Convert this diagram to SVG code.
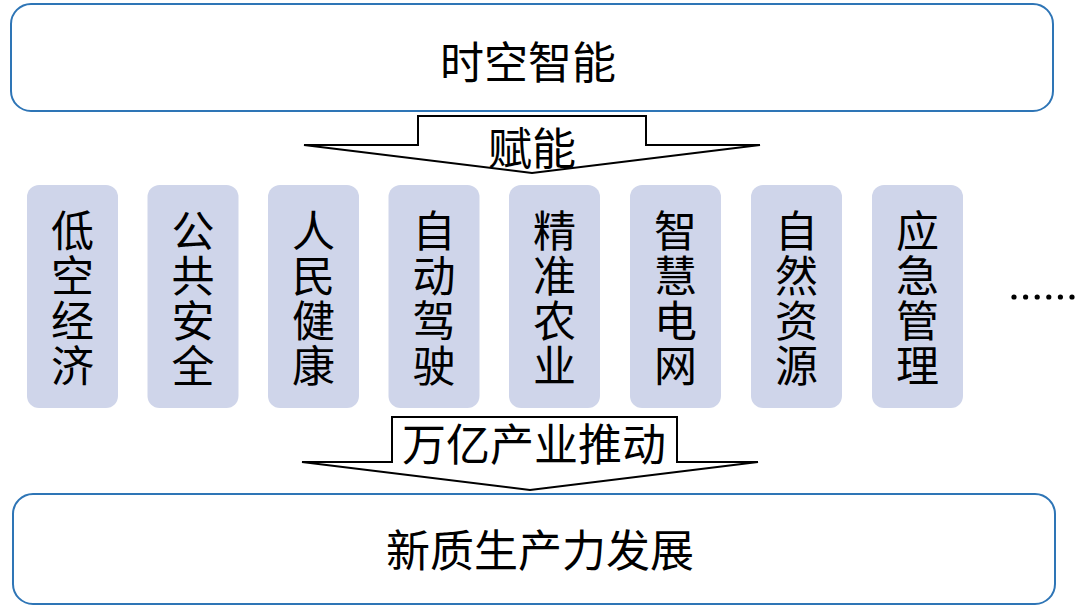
<svg xmlns="http://www.w3.org/2000/svg" width="1080" height="609" viewBox="0 0 1080 609">
<style>
.big{fill:#fff;stroke:#2E75B6;stroke-width:2}
.col{fill:#CFD5EA}
.arr{fill:#fff;stroke:#000;stroke-width:2;stroke-linejoin:miter}
text{font-family:"Noto Sans CJK SC","Liberation Serif",serif;fill:#000;text-anchor:middle;dominant-baseline:central}
.t1{font-size:44px}
.tv{font-size:43px}
</style>
<rect width="1080" height="609" fill="#fff"/>
<g id="top">
<rect class="big" x="11" y="4" width="1042" height="107" rx="20"/>
<text class="t1" x="528" y="60">时空智能</text>
</g>
<g id="connectors">
<g id="arrow-empower">
<path class="arr" d="M418,116 L646,116 L646,145 L760,145 L532,173 L304,145 L418,145 Z"/>
<text class="t1" x="532" y="146">赋能</text>
</g>
<g id="arrow-drive">
<path class="arr" d="M392,417 L677,417 L677,462 L758,462 L530,490 L302,462 L392,462 Z"/>
<text class="t1" x="534" y="442">万亿产业推动</text>
</g>
</g>
<g id="c1"><rect class="col" x="27" y="185" width="91" height="223" rx="12"/><text class="tv" x="72.5"><tspan x="72.5" y="228">低</tspan><tspan x="72.5" y="273">空</tspan><tspan x="72.5" y="318">经</tspan><tspan x="72.5" y="363">济</tspan></text></g>
<g id="c2"><rect class="col" x="147.5" y="185" width="91" height="223" rx="12"/><text class="tv"><tspan x="193" y="228">公</tspan><tspan x="193" y="273">共</tspan><tspan x="193" y="318">安</tspan><tspan x="193" y="363">全</tspan></text></g>
<g id="c3"><rect class="col" x="268" y="185" width="91" height="223" rx="12"/><text class="tv"><tspan x="313.5" y="228">人</tspan><tspan x="313.5" y="273">民</tspan><tspan x="313.5" y="318">健</tspan><tspan x="313.5" y="363">康</tspan></text></g>
<g id="c4"><rect class="col" x="388.5" y="185" width="91" height="223" rx="12"/><text class="tv"><tspan x="434" y="228">自</tspan><tspan x="434" y="273">动</tspan><tspan x="434" y="318">驾</tspan><tspan x="434" y="363">驶</tspan></text></g>
<g id="c5"><rect class="col" x="509" y="185" width="91" height="223" rx="12"/><text class="tv"><tspan x="554.5" y="228">精</tspan><tspan x="554.5" y="273">准</tspan><tspan x="554.5" y="318">农</tspan><tspan x="554.5" y="363">业</tspan></text></g>
<g id="c6"><rect class="col" x="630" y="185" width="91" height="223" rx="12"/><text class="tv"><tspan x="675.5" y="228">智</tspan><tspan x="675.5" y="273">慧</tspan><tspan x="675.5" y="318">电</tspan><tspan x="675.5" y="363">网</tspan></text></g>
<g id="c7"><rect class="col" x="751" y="185" width="91" height="223" rx="12"/><text class="tv"><tspan x="796.5" y="228">自</tspan><tspan x="796.5" y="273">然</tspan><tspan x="796.5" y="318">资</tspan><tspan x="796.5" y="363">源</tspan></text></g>
<g id="c8"><rect class="col" x="872" y="185" width="91" height="223" rx="12"/><text class="tv"><tspan x="917.5" y="228">应</tspan><tspan x="917.5" y="273">急</tspan><tspan x="917.5" y="318">管</tspan><tspan x="917.5" y="363">理</tspan></text></g>
<g id="more"><g fill="#000"><circle cx="1014" cy="297" r="2.6"/><circle cx="1025.6" cy="297" r="2.6"/><circle cx="1037.2" cy="297" r="2.6"/><circle cx="1048.8" cy="297" r="2.6"/><circle cx="1060.4" cy="297" r="2.6"/><circle cx="1072" cy="297" r="2.6"/></g></g>
<g id="bottom">
<rect class="big" x="13" y="494" width="1042" height="110" rx="20"/>
<text class="t1" x="540" y="548">新质生产力发展</text>
</g>
</svg>
